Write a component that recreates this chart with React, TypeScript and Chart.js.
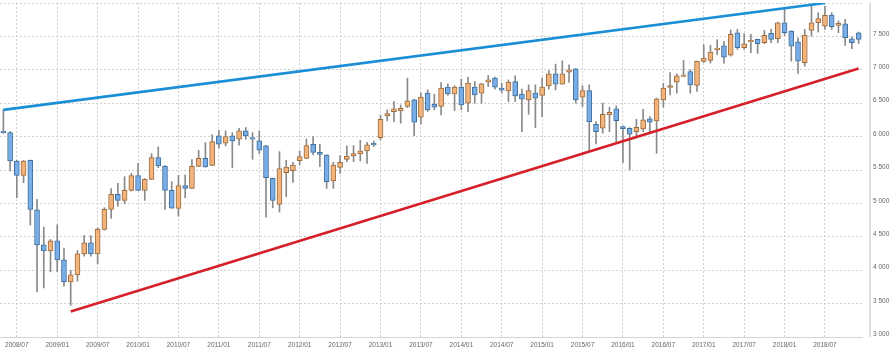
import { useEffect, useRef } from 'react';
import { Chart, registerables } from 'chart.js';

Chart.register(...registerables);

const months = [
  '2008/05','2008/06','2008/07','2008/08','2008/09','2008/10','2008/11','2008/12',
  '2009/01','2009/02','2009/03','2009/04','2009/05','2009/06','2009/07','2009/08','2009/09','2009/10','2009/11','2009/12',
  '2010/01','2010/02','2010/03','2010/04','2010/05','2010/06','2010/07','2010/08','2010/09','2010/10','2010/11','2010/12',
  '2011/01','2011/02','2011/03','2011/04','2011/05','2011/06','2011/07','2011/08','2011/09','2011/10','2011/11','2011/12',
  '2012/01','2012/02','2012/03','2012/04','2012/05','2012/06','2012/07','2012/08','2012/09','2012/10','2012/11','2012/12',
  '2013/01','2013/02','2013/03','2013/04','2013/05','2013/06','2013/07','2013/08','2013/09','2013/10','2013/11','2013/12',
  '2014/01','2014/02','2014/03','2014/04','2014/05','2014/06','2014/07','2014/08','2014/09','2014/10','2014/11','2014/12',
  '2015/01','2015/02','2015/03','2015/04','2015/05','2015/06','2015/07','2015/08','2015/09','2015/10','2015/11','2015/12',
  '2016/01','2016/02','2016/03','2016/04','2016/05','2016/06','2016/07','2016/08','2016/09','2016/10','2016/11','2016/12',
  '2017/01','2017/02','2017/03','2017/04','2017/05','2017/06','2017/07','2017/08','2017/09','2017/10','2017/11','2017/12',
  '2018/01','2018/02','2018/03','2018/04','2018/05','2018/06','2018/07','2018/08','2018/09','2018/10','2018/11','2018/12',
];

const open = [
  6080, 6060, 5635, 5420, 5645, 4905, 4380, 4290, 4440, 4155,
  3825, 3930, 4245, 4410, 4245, 4610, 4910, 5135, 5045, 5195,
  5415, 5195, 5360, 5685, 5560, 5195, 4925, 5265, 5225, 5555,
  5675, 5570, 6010, 5900, 6010, 5960, 6085, 5985, 5935, 5860,
  5375, 4985, 5460, 5490, 5640, 5675, 5885, 5765, 5725, 5335,
  5540, 5660, 5710, 5740, 5785, 5900, 5985, 6310, 6375, 6385,
  6450, 6550, 6290, 6650, 6485, 6450, 6740, 6640, 6740, 6500,
  6740, 6650, 6815, 6875, 6725, 6685, 6825, 6635, 6550, 6650,
  6615, 6760, 6940, 6785, 6965, 7015, 6590, 6690, 6185, 6125,
  6325, 6415, 6150, 6125, 6075, 6115, 6265, 6235, 6550, 6735,
  6815, 6900, 6975, 6765, 7125, 7140, 7300, 7360, 7220, 7555,
  7330, 7420, 7455, 7405, 7545, 7465, 7705, 7580, 7420, 7105,
  7590, 7705, 7655, 7820, 7665, 7690, 7465, 7555,
];

const high = [
  6400, 6075, 5645, 5645, 5650, 5060, 4645, 4460, 4680, 4330,
  4000, 4295, 4520, 4520, 4635, 4935, 5220, 5300, 5400, 5450,
  5600, 5370, 5745, 5845, 5565, 5325, 5420, 5425, 5655, 5795,
  5910, 6025, 6095, 6085, 6060, 6125, 6135, 6060, 6085, 5870,
  5380, 5775, 5645, 5615, 5785, 5965, 6000, 5885, 5730, 5615,
  5715, 5860, 5865, 5945, 5915, 5935, 6325, 6400, 6525, 6475,
  6875, 6560, 6650, 6700, 6635, 6810, 6790, 6760, 6860, 6890,
  6825, 6800, 6915, 6890, 6800, 6850, 6910, 6710, 6775, 6775,
  6875, 6990, 7085, 7135, 7075, 7020, 6760, 6775, 6225, 6500,
  6440, 6460, 6160, 6135, 6260, 6410, 6300, 6575, 6800, 6960,
  6940, 7140, 7000, 7130, 7375, 7365, 7450, 7425, 7595, 7605,
  7540, 7530, 7460, 7590, 7605, 7715, 7905, 7585, 7480, 7605,
  7955, 7855, 7955, 7855, 7730, 7755, 7495, 7565,
];

const low = [
  6050, 5485, 5085, 5310, 4675, 3675, 3735, 3975, 3980, 3760,
  3475, 3835, 4210, 4210, 4095, 4600, 4775, 4960, 4995, 5185,
  5190, 5045, 5355, 5535, 4910, 4925, 4810, 5085, 5220, 5550,
  5540, 5565, 5825, 5860, 5535, 5870, 5960, 5660, 5745, 4795,
  4935, 4870, 5100, 5315, 5575, 5670, 5725, 5550, 5225, 5225,
  5450, 5625, 5625, 5635, 5600, 5850, 5950, 6235, 6225, 6200,
  6435, 6015, 6190, 6375, 6400, 6325, 6615, 6390, 6400, 6375,
  6500, 6500, 6750, 6710, 6650, 6525, 6525, 6075, 6335, 6135,
  6300, 6710, 6700, 6785, 6810, 6500, 6450, 5790, 5890, 6050,
  6075, 5910, 5610, 5500, 6010, 6075, 6075, 5750, 6440, 6625,
  6650, 6895, 6650, 6675, 7110, 7100, 7225, 7100, 7205, 7305,
  7305, 7255, 7245, 7390, 7405, 7405, 7515, 7130, 6945, 7055,
  7505, 7565, 7605, 7605, 7555, 7365, 7315, 7395,
];

const close = [
  6060, 5635, 5420, 5635, 4910, 4380, 4290, 4440, 4155, 3830,
  3930, 4245, 4410, 4245, 4610, 4910, 5135, 5045, 5195, 5415,
  5195, 5360, 5685, 5560, 5195, 4930, 5265, 5225, 5555, 5675,
  5545, 5925, 5885, 6000, 5935, 6085, 6010, 5960, 5795, 5385,
  5045, 5520, 5545, 5575, 5700, 5865, 5765, 5735, 5325, 5575,
  5615, 5710, 5745, 5785, 5875, 5875, 6260, 6345, 6415, 6425,
  6535, 6215, 6590, 6400, 6440, 6725, 6640, 6740, 6475, 6800,
  6625, 6790, 6850, 6740, 6695, 6815, 6610, 6560, 6690, 6575,
  6740, 6940, 6785, 6940, 7000, 6550, 6690, 6225, 6075, 6335,
  6365, 6240, 6120, 6035, 6140, 6250, 6215, 6565, 6725, 6765,
  6910, 6925, 6775, 7125, 7175, 7265, 7325, 7190, 7530, 7330,
  7390, 7440, 7390, 7515, 7455, 7705, 7555, 7355, 7130, 7520,
  7705, 7765, 7815, 7645, 7695, 7480, 7405, 7455,
];

// Trend lines: [start month, end month] and [start value, end value]
const resistanceMonths = ['2008/05', '2018/07'];
const resistanceValues = [6400, 8000];
const supportMonths = ['2009/03', '2018/12'];
const supportValues = [3380, 7020];

const yTicks = [3000, 3500, 4000, 4500, 5000, 5500, 6000, 6500, 7000, 7500, 8000];

const FONT = { family: "'Liberation Sans', Arial, sans-serif", size: 6.5 };

const isLabelled = (i: number) => {
  const m = months[i];
  return !!m && (m.endsWith('/01') || m.endsWith('/07'));
};

const fmt = (v: number) => String(v).replace(/\B(?=(\d{3})+(?!\d))/g, ' ');

const axisBar = {
  id: 'axisBar',
  afterDraw(chart: any) {
    const { ctx, chartArea } = chart;
    ctx.save();
    ctx.fillStyle = '#dedede';
    ctx.fillRect(chartArea.right + 7, chartArea.top, 2, chartArea.bottom - chartArea.top);
    ctx.restore();
  },
};

const noPad = (s: any) => {
  s.paddingTop = 0;
  s.paddingBottom = 0;
  s.paddingLeft = 0;
  s.paddingRight = 0;
};

export default function App() {
  const ref = useRef<HTMLCanvasElement>(null);

  useEffect(() => {
    if (!ref.current) return;
    const up = close.map((c, i) => c >= open[i]);
    const chart = new Chart(ref.current, {
      type: 'bar',
      data: {
        labels: months,
        datasets: [
          {
            type: 'line',
            data: resistanceMonths.map((m, i) => ({ x: m, y: resistanceValues[i] })),
            borderColor: '#1a8fd5',
            borderWidth: 2.6,
            pointRadius: 0,
            order: 1,
          } as any,
          {
            type: 'line',
            data: supportMonths.map((m, i) => ({ x: m, y: supportValues[i] })),
            borderColor: '#d51f29',
            borderWidth: 2.6,
            pointRadius: 0,
            order: 1,
          } as any,
          {
            type: 'bar',
            data: open.map((o, i) => [o, close[i]]),
            backgroundColor: up.map((u) => (u ? '#f2b47c' : '#78ade7')),
            borderColor: up.map((u) => (u ? '#9d6c3d' : '#41709f')),
            borderWidth: 1,
            borderSkipped: false,
            barThickness: 5,
            grouped: false,
            order: 2,
          } as any,
          {
            type: 'bar',
            data: low.map((l, i) => [l, high[i]]),
            backgroundColor: '#8a8a8a',
            barThickness: 1,
            grouped: false,
            order: 3,
          } as any,
        ],
      },
      options: {
        animation: false,
        responsive: false,
        maintainAspectRatio: false,
        layout: { padding: { top: 3, left: 0, right: 0, bottom: 0 } },
        plugins: { legend: { display: false }, tooltip: { enabled: false } },
        scales: {
          x: {
            type: 'category',
            offset: true,
            grid: {
              offset: false,
              drawTicks: false,
              color: (ctx: any) => (isLabelled(ctx.index) ? '#cfcfcf' : 'rgba(0,0,0,0)'),
            },
            border: { display: true, color: '#d4d4d4', dash: [2, 2] },
            ticks: {
              autoSkip: false,
              maxRotation: 0,
              minRotation: 0,
              padding: 4,
              color: '#666',
              font: FONT,
              callback: (_v: any, i: number) => (isLabelled(i) ? months[i] : ''),
            },
            afterFit: (s: any) => {
              s.height = 24;
              noPad(s);
            },
          },
          y: {
            position: 'right',
            min: yTicks[0],
            max: yTicks[yTicks.length - 1],
            afterBuildTicks: (s: any) => {
              s.ticks = yTicks.map((v) => ({ value: v }));
            },
            grid: { drawTicks: false, color: '#cfcfcf' },
            border: { display: false, dash: [2, 2] },
            ticks: {
              padding: 11,
              labelOffset: -2.5,
              color: '#666',
              font: FONT,
              callback: (v: any) => (v === 8000 ? '' : fmt(v)),
            },
            afterFit: (s: any) => {
              s.width = 29;
              noPad(s);
            },
          },
        },
      } as any,
      plugins: [axisBar],
    });
    return () => chart.destroy();
  }, []);

  return (
    <div style={{ position: 'absolute', left: 0, top: 0, width: 891, height: 361, background: '#fff' }}>
      <canvas ref={ref} width={891} height={361} style={{ display: 'block' }} />
    </div>
  );
}
